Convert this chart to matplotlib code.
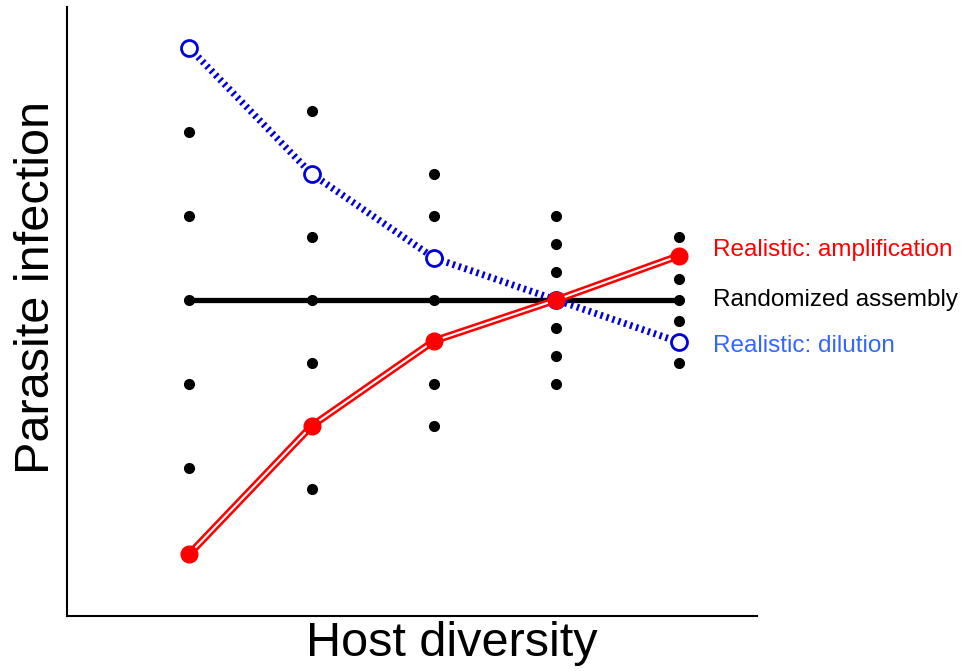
import matplotlib
matplotlib.use('Agg')
import matplotlib.pyplot as plt
import numpy as np

plt.rcParams['font.family'] = ['Liberation Sans', 'DejaVu Sans']

# host diversity levels
diversity = [1, 2, 3, 4, 5]

# randomized assembly outcomes (parasite infection, arbitrary units)
random_points = [
    [8, 4, 0, -4, -8],
    [9, 3, 0, -3, -9],
    [6, 4, 2, 0, -2, -4, -6],
    [4, 2.67, 1.33, 0, -1.33, -2.67, -4],
    [3, 2, 1, 0, -1, -2, -3],
]
random_mean = [0, 0, 0, 0, 0]

dilution = [12, 6, 2, 0, -2]
amplification = [-12.1, -6, -1.95, 0, 2.1]

labels = ['Realistic: amplification', 'Randomized assembly', 'Realistic: dilution']
label_y = [2.4, 0, -2.2]
label_colors = ['#ff0000', '#000000', '#3366ff']

fig = plt.figure(figsize=(9.68, 6.71), dpi=100)
ax = fig.add_axes([0.0692, 0.082, 0.7128, 0.9076])

# black dots for each random community
for x, ys in zip(diversity, random_points):
    ax.plot([x] * len(ys), ys, 'o', color='black', markersize=7, zorder=2)

ax.plot(diversity, random_mean, '-', color='black', lw=3.8, zorder=3,
        solid_capstyle='butt')

# dilution: blue dotted with open circles
ax.plot(diversity, dilution, color='#0000dd', lw=5, dashes=(0.35, 0.55),
        zorder=4)
ax.plot(diversity, dilution, 'o', markersize=11.5, markerfacecolor='white',
        markeredgecolor='#0000dd', markeredgewidth=2, zorder=5)

# amplification: red double line with filled circles
ax.plot(diversity, amplification, color='#ff0000', lw=5.2, zorder=6,
        solid_capstyle='round')
ax.plot(diversity, amplification, color='white', lw=1.5, zorder=7)
ax.plot(diversity, amplification, 'o', color='#ff0000', markersize=12,
        zorder=8)

for txt, yy, c in zip(labels, label_y, label_colors):
    ax.text(5.28, yy, txt, color=c, fontsize=17.5, ha='left', va='center',
            clip_on=False)

ax.set_xlim(0, 5.64)
ax.set_ylim(-15.05, 13.95)
ax.set_xticks([])
ax.set_yticks([])
ax.spines['top'].set_visible(False)
ax.spines['right'].set_visible(False)
ax.spines['left'].set_linewidth(1.5)
ax.spines['bottom'].set_linewidth(1.5)
ax.set_xlabel('Host diversity', fontsize=35)
ax.set_ylabel('Parasite infection', fontsize=35)
ax.xaxis.set_label_coords(0.558, -0.008, transform=ax.transAxes)
ax.xaxis.label.set_va('top')
ax.yaxis.set_label_coords(-0.011, 0.54, transform=ax.transAxes)

fig.savefig('out.png', dpi=100)
